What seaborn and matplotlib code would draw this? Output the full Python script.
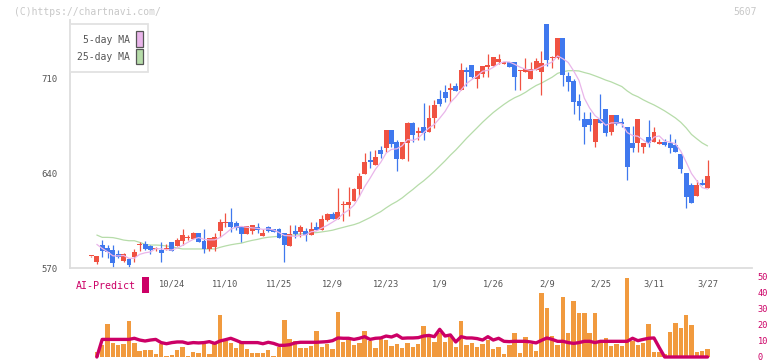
import numpy as np
import pandas as pd
import matplotlib
matplotlib.use("Agg")
import matplotlib.pyplot as plt
import seaborn as sns
from matplotlib.patches import Rectangle

# ---------------- data ----------------
opens = [578.6, 574.7, 587.0, 584.6, 583.3, 580.4, 575.4, 576.4, 578.4, 587.3,
         587.8, 586.3, 583.8, 583.3, 584.3, 589.3, 586.3, 590.2, 592.3, 591.7,
         595.9, 590.2, 583.8, 585.5, 597.7, 603.6, 603.8, 603.6, 600.4, 595.4,
         597.4, 600.4, 594.0, 600.4, 598.6, 598.6, 595.7, 586.5, 597.4, 596.9,
         597.4, 594.4, 600.4, 598.1, 605.6, 610.2, 606.3, 616.5, 616.9, 619.9,
         628.3, 639.9, 649.8, 646.3, 657.4, 658.9, 672.2, 663.3, 650.7, 662.8,
         677.7, 670.2, 674.4, 671.0, 680.9, 695.2, 700.6, 701.6, 704.8, 702.1,
         716.7, 720.4, 710.0, 713.7, 719.2, 719.6, 722.8, 721.1, 722.6, 722.6,
         715.8, 715.3, 710.0, 716.7, 715.2, 750.7, 725.5, 725.3, 740.4, 712.2,
         708.5, 693.7, 680.4, 680.4, 663.6, 680.4, 687.8, 670.7, 683.3, 678.4,
         674.4, 662.8, 662.3, 659.9, 667.0, 663.6, 662.1, 663.3, 662.8, 661.1,
         654.4, 640.4, 631.5, 623.6, 632.7, 629.5]
highs = [579.0, 578.6, 590.7, 587.0, 587.0, 583.3, 580.8, 576.4, 584.1, 589.5,
         590.0, 586.8, 585.3, 589.3, 587.5, 589.5, 592.5, 598.9, 594.4, 596.4,
         596.1, 598.9, 592.5, 595.7, 606.3, 610.5, 614.7, 605.1, 600.6, 601.3,
         602.1, 603.3, 598.9, 601.1, 598.9, 599.9, 596.0, 601.9, 601.6, 601.6,
         599.4, 604.3, 604.3, 609.5, 610.5, 611.7, 629.3, 620.0, 630.2, 629.0,
         640.1, 655.2, 656.7, 657.4, 660.6, 672.5, 672.5, 665.0, 663.5, 678.4,
         678.0, 674.7, 692.0, 690.7, 694.4, 701.9, 705.6, 706.8, 706.8, 721.6,
         719.1, 720.6, 716.2, 719.8, 728.3, 726.5, 728.3, 722.8, 722.8, 722.8,
         716.5, 725.8, 722.8, 725.8, 730.7, 750.9, 727.3, 740.6, 740.6, 715.3,
         710.0, 698.9, 685.2, 685.2, 680.6, 698.9, 688.0, 683.5, 683.5, 681.4,
         674.6, 675.2, 680.6, 662.5, 679.6, 674.2, 665.8, 665.8, 669.0, 665.6,
         654.6, 640.6, 632.7, 635.2, 635.7, 650.0]
lows = [578.2, 573.2, 578.4, 577.7, 570.2, 577.2, 574.7, 570.2, 574.7, 582.6,
        583.5, 580.4, 582.8, 574.7, 583.3, 582.6, 586.0, 587.0, 590.5, 591.5,
        589.0, 581.4, 582.5, 582.8, 593.0, 600.6, 596.9, 598.5, 589.3, 595.2,
        595.4, 595.7, 594.0, 597.0, 596.5, 592.3, 574.7, 586.3, 592.0, 592.7,
        590.0, 594.2, 597.8, 597.9, 605.0, 606.0, 606.0, 605.0, 608.8, 619.5,
        623.6, 639.5, 643.8, 646.0, 651.2, 656.2, 659.9, 641.9, 650.5, 649.3,
        663.0, 664.8, 664.8, 670.5, 674.0, 690.2, 693.2, 693.2, 701.0, 701.8,
        704.8, 710.5, 703.1, 711.7, 711.7, 719.4, 721.1, 721.0, 719.0, 701.9,
        701.9, 715.0, 709.8, 716.5, 698.1, 719.6, 717.9, 725.0, 704.8, 701.1,
        684.1, 679.6, 661.9, 671.7, 659.9, 677.5, 668.0, 668.8, 676.2, 674.7,
        635.2, 655.7, 655.7, 654.9, 659.4, 663.4, 662.0, 660.7, 654.9, 656.0,
        640.6, 614.2, 618.2, 623.4, 631.3, 629.3]
closes = [578.6, 578.6, 582.8, 581.6, 573.5, 578.4, 580.1, 572.2, 582.1, 587.8,
          584.1, 583.3, 584.3, 581.4, 584.8, 582.8, 590.5, 594.4, 592.7, 595.9,
          589.3, 584.1, 592.0, 593.0, 604.3, 604.0, 600.4, 599.9, 595.4, 601.1,
          601.9, 598.4, 596.2, 597.4, 596.9, 592.5, 587.3, 595.2, 595.2, 600.4,
          594.4, 598.9, 598.1, 606.3, 610.2, 606.3, 611.7, 617.4, 618.9, 628.5,
          638.1, 648.5, 648.3, 652.2, 654.4, 672.2, 662.1, 650.7, 663.3, 677.7,
          668.5, 671.2, 670.2, 681.1, 690.7, 691.5, 696.2, 703.6, 701.4, 716.7,
          715.2, 711.2, 716.0, 719.6, 720.2, 726.3, 724.8, 722.6, 719.1, 711.5,
          716.0, 717.2, 717.7, 723.3, 721.9, 724.1, 725.8, 740.4, 712.8, 708.0,
          693.3, 690.2, 674.7, 675.9, 680.4, 677.7, 670.0, 683.3, 676.4, 676.9,
          645.1, 659.1, 680.4, 662.3, 662.3, 670.7, 663.3, 660.9, 659.1, 656.2,
          643.6, 622.8, 618.4, 631.5, 631.5, 638.1]

# moving-average values drawn before enough days are on the chart
ma5_head = [np.nan, 587.5, 584.5, 582.0]
ma25_head = [np.nan, 594.4, 592.7, 592.7, 592.5, 591.7, 590.7, 590.2, 590.2, 589.0,
             587.5, 587.0, 587.0, 586.8, 586.3, 585.8, 584.8, 584.1, 584.1, 584.1,
             584.1, 584.1, 584.1, 584.1]

volume = [0, 3.3, 7.3, 20.4, 9.0, 7.3, 7.9, 22.3, 9.0, 3.5,
          4.2, 4.2, 1.7, 7.9, 0.6, 1.0, 4.2, 6.0, 0.6, 3.1,
          2.3, 7.9, 1.7, 7.9, 26.0, 10.0, 9.0, 5.4, 9.4, 4.8,
          2.3, 2.3, 2.3, 4.2, 0.6, 6.2, 22.9, 11.0, 9.8, 5.4,
          5.4, 6.9, 16.0, 6.2, 7.9, 4.8, 27.9, 9.2, 10.6, 7.3,
          8.5, 16.0, 10.0, 5.4, 11.0, 10.4, 6.7, 7.9, 5.4, 8.5,
          6.0, 7.9, 19.2, 12.3, 9.2, 15.0, 9.2, 12.3, 6.0, 22.3,
          7.3, 8.5, 6.0, 7.9, 10.4, 4.8, 6.0, 1.7, 7.3, 14.8,
          2.3, 12.5, 7.9, 3.5, 39.8, 30.4, 12.9, 7.3, 37.3, 14.8,
          34.8, 27.3, 27.3, 14.8, 27.3, 8.5, 11.7, 6.7, 7.9, 6.7,
          49.2, 9.8, 7.3, 8.5, 20.4, 2.9, 2.9, 1.7, 15.4, 21.0,
          17.9, 26.0, 19.8, 2.9, 3.5, 4.8]
ai_predict = [np.nan, 0, 11.0, 11.0, 11.0, 11.0, 11.0, 11.0, 11.7, 10.6,
              10.0, 10.6, 11.0, 9.0, 8.3, 9.0, 9.4, 9.4, 8.5, 9.0,
              8.8, 9.0, 9.6, 8.5, 10.0, 10.8, 11.7, 10.4, 9.0, 9.0,
              9.0, 9.0, 8.3, 9.2, 8.5, 7.3, 7.3, 7.7, 8.8, 9.2,
              9.2, 9.2, 9.2, 9.4, 9.6, 10.2, 11.9, 11.7, 11.7, 11.0,
              11.7, 12.7, 11.0, 11.7, 11.9, 13.1, 12.5, 13.8, 11.7, 11.9,
              11.9, 12.1, 13.1, 13.5, 12.7, 17.3, 13.1, 13.8, 9.4, 12.7,
              11.9, 11.9, 11.5, 10.6, 12.7, 10.6, 11.7, 9.8, 9.6, 9.8,
              9.8, 9.8, 9.4, 8.8, 10.4, 11.9, 11.0, 9.8, 9.8, 9.0,
              8.5, 9.0, 9.8, 9.8, 9.0, 9.8, 9.8, 9.8, 9.8, 9.8,
              9.8, 11.7, 10.2, 11.0, 11.7, 11.9, 5.8, 0, 0, 0,
              0, 0, 0, 0, 0, 0]

date_labels = ["10/24", "11/10", "11/25", "12/9", "12/23", "1/9", "1/26",
               "2/9", "2/25", "3/11", "3/27"]
date_label_idx = [15, 25, 35, 45, 55, 65, 75, 85, 95, 105, 115]
price_ticks = [570, 640, 710]
vol_ticks = [0, 10, 20, 30, 40, 50]

# ---------------- build table ----------------
n = len(closes)
df = pd.DataFrame({"i": np.arange(n), "open": opens, "high": highs,
                   "low": lows, "close": closes, "volume": volume,
                   "ai": ai_predict})
ma5 = df["close"].rolling(5).mean().to_numpy()
ma5[:len(ma5_head)] = ma5_head
ma25 = df["close"].rolling(25).mean().to_numpy()
ma25[:len(ma25_head)] = ma25_head
df["ma5"] = ma5
df["ma25"] = ma25

# ---------------- style ----------------
sns.set_theme(style="white")
plt.rcParams["font.family"] = ["DejaVu Sans Mono"]

W, H = 772, 361
RED = "#f05242"
BLUE = "#3f78ee"
PINK = "#e9b5ea"
GREEN = "#b6dca9"
ORANGE = "#f19a3e"
MAG = "#cc0066"
AXC = "#dddddd"
TXT = "#555555"

fig = plt.figure(figsize=(W / 100, H / 100), dpi=100)
fig.patch.set_facecolor("white")

xl0, xl1 = -4.01, 123.3
ax = fig.add_axes([70 / W, (H - 268) / H, 682 / W, 248 / H])
# volume panel: 0 at y=357, 50 at y=277 (1.6 px per unit)
axv = fig.add_axes([70 / W, (H - 359) / H, 682 / W, 84 / H])

# ---------------- candles ----------------
up = df["close"] >= df["open"]
cols = np.where(up, RED, BLUE)
ax.vlines(df["i"], df["low"], df["high"], colors=cols, linewidth=0.9, zorder=2)
body_lo = np.minimum(df["open"], df["close"])
body_h = np.maximum(np.abs(df["close"] - df["open"]), 0.8)
ax.bar(df["i"], body_h, bottom=body_lo, width=0.92, color=cols,
       linewidth=0, zorder=3)

sns.lineplot(data=df, x="i", y="ma5", ax=ax, color=PINK, linewidth=0.9,
             zorder=4)
sns.lineplot(data=df, x="i", y="ma25", ax=ax, color=GREEN, linewidth=0.9,
             zorder=1)

ax.set_xlim(xl0, xl1)
ax.set_ylim(570, 570 + 248 / 1.35)
ax.set_xlabel("")
ax.set_ylabel("")
for s in ["top", "right"]:
    ax.spines[s].set_visible(False)
for s in ["left", "bottom"]:
    ax.spines[s].set_color(AXC)
    ax.spines[s].set_linewidth(1.3)

ax.set_xticks(np.linspace(xl0, xl1, 12))
ax.set_xticklabels([])
ax.tick_params(axis="x", which="major", direction="inout", length=7,
               width=1.3, color=AXC)
ax.set_xticks(date_label_idx, minor=True)
ax.set_xticklabels(date_labels, minor=True)
ax.tick_params(axis="x", which="minor", length=0, pad=8, labelsize=6.3,
               labelcolor=TXT)
ax.set_yticks(price_ticks)
ax.set_yticklabels([str(v) for v in price_ticks])
ax.tick_params(axis="y", direction="inout", length=8, width=1.3, color=AXC,
               labelsize=6.5, labelcolor=TXT, pad=5)
ax.grid(False)

# ---------------- volume panel ----------------
sns.barplot(data=df, x="i", y="volume", ax=axv, native_scale=True,
            color=ORANGE, saturation=1, width=0.82, linewidth=0)
sns.lineplot(data=df, x="i", y="ai", ax=axv, color=MAG, linewidth=2.4,
             zorder=5)
for ln in axv.lines:
    ln.set_clip_on(False)
    ln.set_solid_joinstyle("round")
    ln.set_solid_capstyle("round")
axv.set_xlim(xl0, xl1)
axv.set_ylim(-2 / 1.6, 50 + 2 / 1.6)
axv.set_xlabel("")
axv.set_ylabel("")
for s in axv.spines.values():
    s.set_visible(False)
axv.set_xticks([])
axv.yaxis.tick_right()
axv.set_yticks(vol_ticks)
axv.set_yticklabels([str(v) for v in vol_ticks])
axv.tick_params(axis="y", length=0, pad=4, labelsize=6.2, labelcolor=MAG)
axv.set_facecolor("none")
axv.grid(False)


# ---------------- decorations (figure pixel coords) ----------------
def rect(x0, y0, x1, y1, **kw):
    r = Rectangle((x0 / W, 1 - y1 / H), (x1 - x0) / W, (y1 - y0) / H,
                  transform=fig.transFigure, **kw)
    fig.add_artist(r)


rect(70, 24, 148, 72, facecolor="white", edgecolor="#e2e2e2", linewidth=1.3,
     zorder=5)
rect(136, 31, 143, 47, facecolor=PINK, edgecolor="#555555", linewidth=0.9,
     zorder=6)
rect(136, 49, 143, 64, facecolor=GREEN, edgecolor="#555555", linewidth=0.9,
     zorder=6)
fig.text(130 / W, 1 - 40 / H, "5-day MA", ha="right", va="center",
         fontsize=7, color=TXT, zorder=7)
fig.text(130 / W, 1 - 57 / H, "25-day MA", ha="right", va="center",
         fontsize=7, color=TXT, zorder=7)

fig.text(14 / W, 1 - 12 / H, "(C)https://chartnavi.com/", ha="left",
         va="center", fontsize=7, color="#c8c8c8")
fig.text(757 / W, 1 - 12 / H, "5607", ha="right", va="center", fontsize=7,
         color="#c8c8c8")

fig.text(76 / W, 1 - 286 / H, "AI-Predict", ha="left", va="center",
         fontsize=7.2, color=MAG)
rect(142, 277, 149, 293, facecolor=MAG, edgecolor="none", zorder=6)

fig.savefig("out.png", dpi=100, facecolor="white")
